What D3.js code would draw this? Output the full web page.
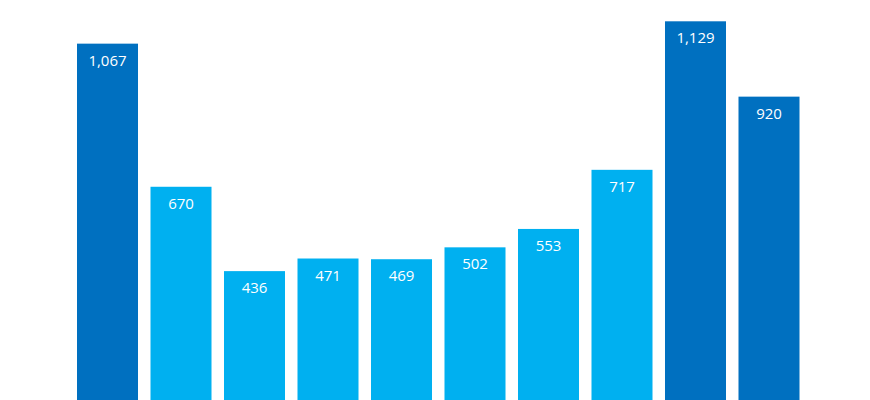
<!DOCTYPE html>
<html><head><meta charset="utf-8">
<script src="https://cdn.jsdelivr.net/npm/d3@7"></script>
<style>body{margin:0;background:#fff;}svg{display:block;}</style>
</head><body>
<svg id="chart" width="870" height="400"></svg>
<script>
const categories = ["1","2","3","4","5","6","7","8","9","10"];
const values = [1067, 670, 436, 471, 469, 502, 553, 717, 1129, 920];
const highlighted = [true, false, false, false, false, false, false, false, true, true];

const svg = d3.select("#chart");
const x = d3.scaleBand().domain(categories).range([77, 799.5]).paddingInner(0.17).paddingOuter(0);
const y = d3.scaleLinear().domain([0, 1129]).range([428.3, 21.3]);

const data = categories.map((c, i) => ({c, v: values[i], h: highlighted[i]}));

svg.selectAll("rect").data(data).join("rect")
  .attr("x", d => x(d.c))
  .attr("width", x.bandwidth())
  .attr("y", d => y(d.v))
  .attr("height", d => y(0) - y(d.v))
  .attr("fill", d => d.h ? "#0070C0" : "#00B0F0");

const fmt = d3.format(",");
svg.selectAll("text.lbl").data(data).join("text")
  .attr("class", "lbl")
  .attr("x", d => x(d.c) + x.bandwidth() / 2)
  .attr("y", d => y(d.v) + 22)
  .attr("text-anchor", "middle")
  .attr("fill", "#fff")
  .attr("font-family", "'Open Sans', sans-serif")
  .attr("font-size", 15)
  .text(d => fmt(d.v));
</script>
</body></html>
